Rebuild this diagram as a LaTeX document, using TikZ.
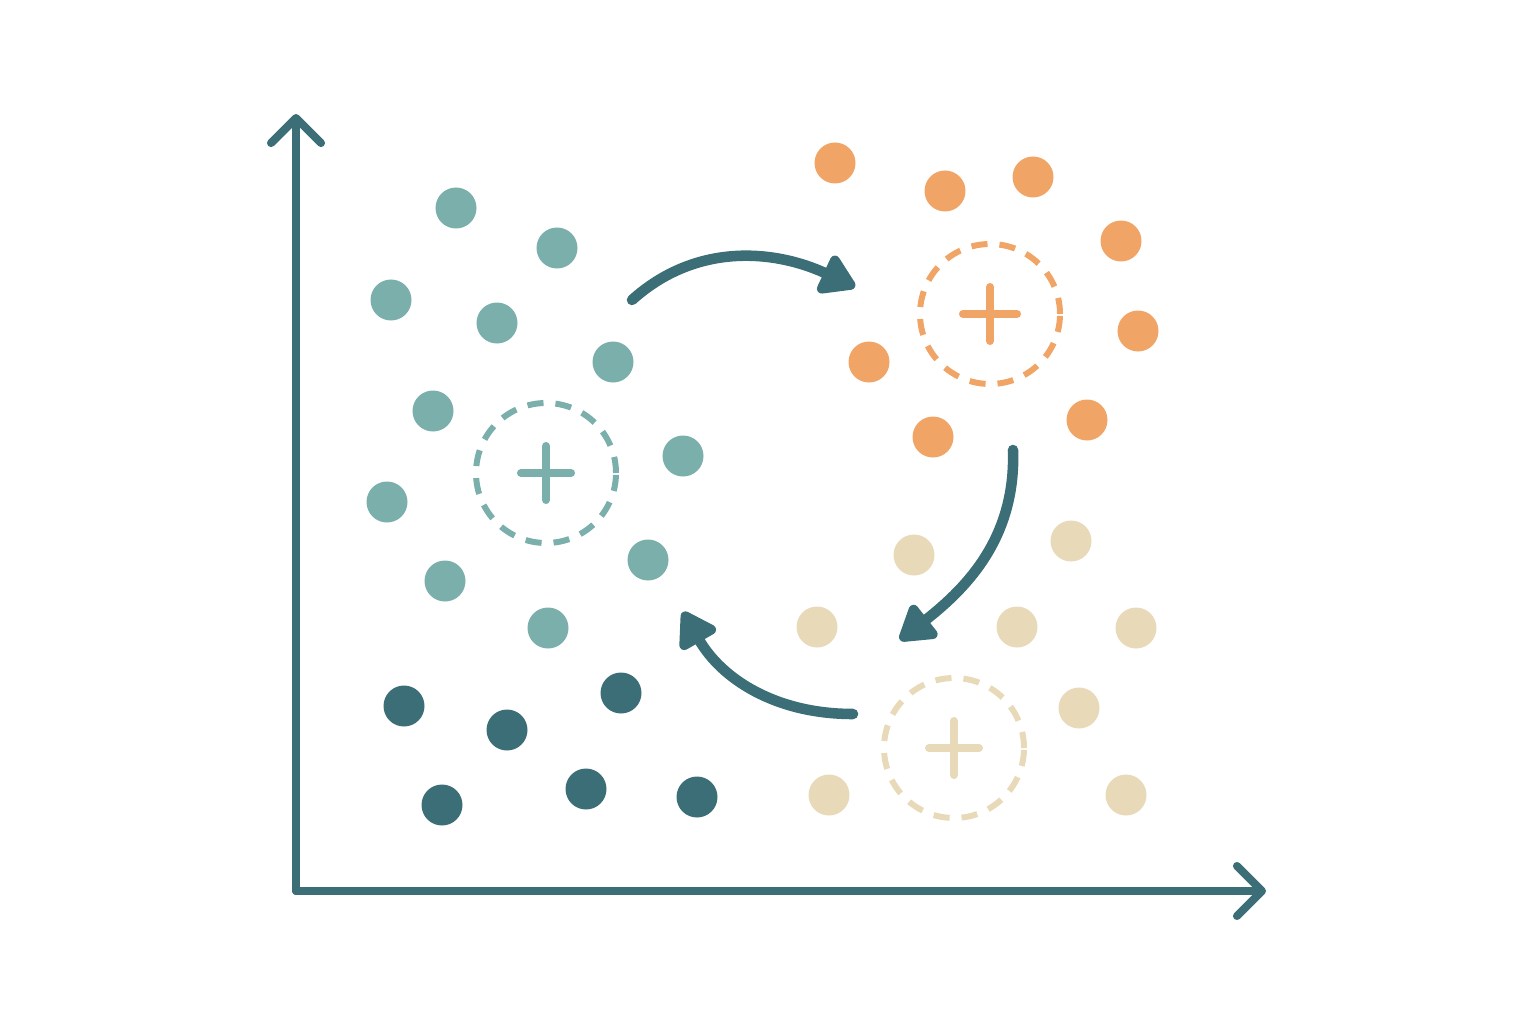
\documentclass[tikz,border=0pt]{standalone}
\usepackage{xcolor}
\usepackage{tikz}
\usetikzlibrary{arrows.meta,positioning}

\definecolor{darkteal}{HTML}{3B6E77}
\definecolor{lightteal}{HTML}{7AAFAB}
\definecolor{clorange}{HTML}{F0A466}
\definecolor{clbeige}{HTML}{E8D9B8}

\tikzset{
  dot/.style={circle,inner sep=0pt,minimum size=0.41cm},
  tealdot/.style={dot,fill=lightteal},
  darkdot/.style={dot,fill=darkteal},
  orangedot/.style={dot,fill=clorange},
  beigedot/.style={dot,fill=clbeige},
  centroid/.style={circle,inner sep=0pt,minimum size=1.40cm,line width=1.7pt,dash pattern=on 4.6pt off 3.4pt},
  plus/.style={line width=2.3pt,line cap=round},
  axis/.style={darkteal,line width=2.3pt,line cap=round,line join=round,-{Straight Barb[length=2.5mm,width=5.0mm,round]}},
  flow/.style={darkteal,line width=3pt,line cap=round,-{Triangle[length=3.9mm,width=4.6mm,round]}}
}

\begin{document}
\begin{tikzpicture}
\useasboundingbox (0,0) rectangle (15.36,10.24);

% axes
\coordinate (O) at (2.96,1.33);
\coordinate (ytop) at (2.96,9.10);
\coordinate (xend) at (12.66,1.33);
\draw[axis] (O) -- (ytop);
\draw[axis] (O) -- (xend);

% light teal cluster
\node[tealdot] (t1) at (4.56,8.16) {};
\node[tealdot] (t2) at (5.57,7.76) {};
\node[tealdot] (t3) at (3.91,7.24) {};
\node[tealdot] (t4) at (4.97,7.01) {};
\node[tealdot] (t5) at (6.13,6.62) {};
\node[tealdot] (t6) at (4.33,6.13) {};
\node[tealdot] (t7) at (6.83,5.68) {};
\node[tealdot] (t8) at (3.87,5.22) {};
\node[tealdot] (t9) at (6.48,4.64) {};
\node[tealdot] (t10) at (4.45,4.43) {};
\node[tealdot] (t11) at (5.48,3.96) {};

% dark teal points
\node[darkdot] (d1) at (4.04,3.18) {};
\node[darkdot] (d2) at (5.07,2.94) {};
\node[darkdot] (d3) at (6.21,3.31) {};
\node[darkdot] (d4) at (4.42,2.19) {};
\node[darkdot] (d5) at (5.86,2.35) {};
\node[darkdot] (d6) at (6.97,2.27) {};

% orange cluster
\node[orangedot] (o1) at (8.35,8.61) {};
\node[orangedot] (o2) at (9.45,8.33) {};
\node[orangedot] (o3) at (10.33,8.47) {};
\node[orangedot] (o4) at (11.21,7.83) {};
\node[orangedot] (o5) at (11.38,6.93) {};
\node[orangedot] (o6) at (8.69,6.62) {};
\node[orangedot] (o7) at (10.87,6.04) {};
\node[orangedot] (o8) at (9.33,5.87) {};

% beige cluster
\node[beigedot] (b1) at (9.14,4.69) {};
\node[beigedot] (b2) at (10.71,4.83) {};
\node[beigedot] (b3) at (8.17,3.97) {};
\node[beigedot] (b4) at (10.17,3.97) {};
\node[beigedot] (b5) at (11.36,3.96) {};
\node[beigedot] (b6) at (10.79,3.16) {};
\node[beigedot] (b7) at (8.29,2.29) {};
\node[beigedot] (b8) at (11.26,2.29) {};

% centroids
\node[centroid,draw=lightteal] (cTeal) at (5.46,5.51) {};
\node[centroid,draw=clorange] (cOrange) at (9.90,7.10) {};
\node[centroid,draw=clbeige] (cBeige) at (9.54,2.76) {};
\draw[plus,lightteal] ([xshift=-0.25cm]cTeal.center) -- ([xshift=0.25cm]cTeal.center)
  ([yshift=-0.27cm]cTeal.center) -- ([yshift=0.27cm]cTeal.center);
\draw[plus,clorange] ([xshift=-0.27cm]cOrange.center) -- ([xshift=0.27cm]cOrange.center)
  ([yshift=-0.27cm]cOrange.center) -- ([yshift=0.27cm]cOrange.center);
\draw[plus,clbeige] ([xshift=-0.25cm]cBeige.center) -- ([xshift=0.25cm]cBeige.center)
  ([yshift=-0.27cm]cBeige.center) -- ([yshift=0.27cm]cBeige.center);

% update arrows
\coordinate (a1s) at (6.32,7.24);
\coordinate (a1e) at (8.55,7.37);
\coordinate (a2s) at (10.13,5.74);
\coordinate (a2e) at (9.00,3.84);
\coordinate (a3s) at (8.53,3.10);
\coordinate (a3e) at (6.83,4.12);
\draw[flow] (a1s) to[out=42,in=155] (a1e);
\draw[flow] (a2s) to[out=-88,in=38] (a2e);
\draw[flow] (a3s) to[out=180,in=-60] (a3e);

\end{tikzpicture}
\end{document}
